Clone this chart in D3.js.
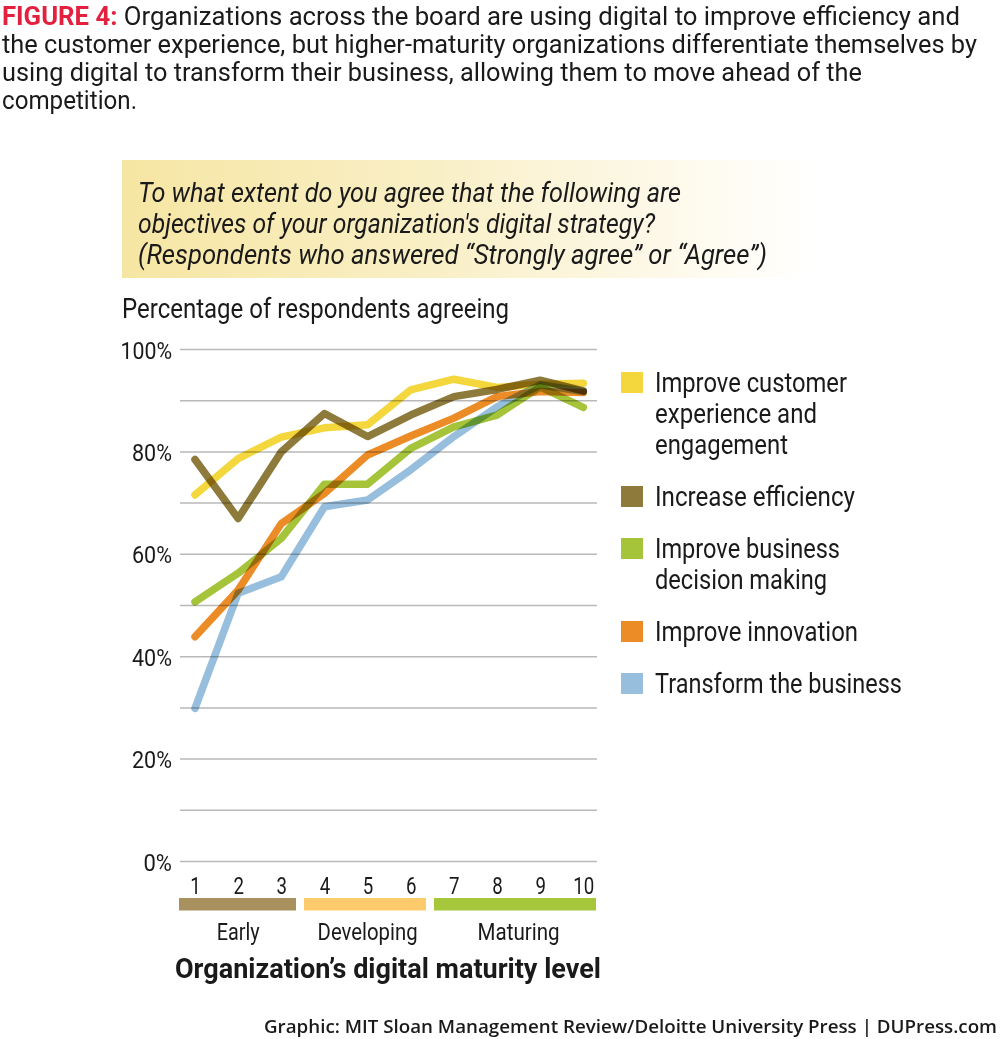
<!DOCTYPE html>
<html>
<head>
<meta charset="utf-8">
<script src="https://cdn.jsdelivr.net/npm/d3@7"></script>
<style>
  html, body { margin: 0; padding: 0; background: #fff; }
  svg { display: block; }
  text { font-family: Roboto, "Liberation Sans", sans-serif; fill: #1a1a1a; }
</style>
</head>
<body>
<svg id="chart" width="1000" height="1039"></svg>
<script>
// ---------- data ----------
const levels = [1, 2, 3, 4, 5, 6, 7, 8, 9, 10];
const seriesNames = [
  "Improve customer experience and engagement",
  "Increase efficiency",
  "Improve business decision making",
  "Improve innovation",
  "Transform the business"
];
const customerExperience = [71.6, 78.7, 82.9, 84.7, 85.3, 92.1, 94.2, 92.6, 93.2, 93.4];
const efficiency         = [78.5, 67.0, 80.0, 87.5, 83.0, 87.2, 90.8, 92.2, 94.0, 91.9];
const decisionMaking     = [50.7, 56.3, 63.1, 73.7, 73.7, 80.7, 84.9, 87.2, 92.7, 88.7];
const innovation         = [43.9, 53.0, 66.0, 71.9, 79.4, 83.1, 86.6, 90.8, 91.8, 91.6];
const transform          = [29.9, 52.4, 55.6, 69.3, 70.6, 76.5, 83.0, 88.8, 93.1, 91.8];
const yTicks = [0, 20, 40, 60, 80, 100];
const yGrid = [0, 10, 20, 30, 40, 50, 60, 70, 80, 90, 100];
const stages = ["Early", "Developing", "Maturing"];
const stageLevels = [[1, 3], [4, 6], [7, 10]];

const legendLines = [
  ["Improve customer", "experience and", "engagement"],
  ["Increase efficiency"],
  ["Improve business", "decision making"],
  ["Improve innovation"],
  ["Transform the business"]
];

// ---------- styles ----------
const colors = ["#f3d73c", "#8e7a3b", "#a5c43a", "#ec8c27", "#97bfdd"];
const stageColors = ["#a8915e", "#fdcb6b", "#a6c63b"];
const values = [customerExperience, efficiency, decisionMaking, innovation, transform];

const svg = d3.select("#chart");

// helper: text with forced width
function txt(g, x, y, s, opts = {}) {
  const t = g.append("text").attr("x", x).attr("y", y).text(s);
  if (opts.size) t.attr("font-size", opts.size);
  if (opts.weight) t.attr("font-weight", opts.weight);
  if (opts.style) t.attr("font-style", opts.style);
  if (opts.fill) t.style("fill", opts.fill);
  if (opts.anchor) t.attr("text-anchor", opts.anchor);
  if (opts.family) t.style("font-family", opts.family);
  if (opts.width) t.attr("textLength", opts.width).attr("lengthAdjust", "spacingAndGlyphs");
  return t;
}

// ---------- title ----------
const title = svg.append("g");
const t1 = title.append("text").attr("x", 2).attr("y", 25).attr("font-size", 25)
  .attr("textLength", 958).attr("lengthAdjust", "spacingAndGlyphs");
t1.append("tspan").attr("font-weight", "bold").style("fill", "#e2213f").text("FIGURE 4:");
t1.append("tspan").text(" Organizations across the board are using digital to improve efficiency and");
txt(title, 2, 53, "the customer experience, but higher-maturity organizations differentiate themselves by", {size: 25, width: 975});
txt(title, 2, 81, "using digital to transform their business, allowing them to move ahead of the", {size: 25, width: 860});
txt(title, 2, 109, "competition.", {size: 25, width: 135});

// ---------- question box ----------
const defs = svg.append("defs");
const grad = defs.append("linearGradient").attr("id", "boxGrad").attr("x1", "0%").attr("x2", "100%");
grad.append("stop").attr("offset", "0%").attr("stop-color", "#f6e6a3");
grad.append("stop").attr("offset", "45%").attr("stop-color", "#f9efc6");
grad.append("stop").attr("offset", "85%").attr("stop-color", "#fefbf0");
grad.append("stop").attr("offset", "100%").attr("stop-color", "#ffffff");
svg.append("rect").attr("x", 122).attr("y", 160).attr("width", 690).attr("height", 118).attr("fill", "url(#boxGrad)");
const qb = svg.append("g");
txt(qb, 138, 202, "To what extent do you agree that the following are", {size: 27, style: "italic", width: 543});
txt(qb, 138, 233, "objectives of your organization's digital strategy?", {size: 27, style: "italic", width: 517});
txt(qb, 138, 264, "(Respondents who answered \u201CStrongly agree\u201D or \u201CAgree\u201D)", {size: 27, style: "italic", width: 629});

txt(svg, 122, 318, "Percentage of respondents agreeing", {size: 27, width: 387});

// ---------- scales ----------
const x = d3.scaleLinear().domain([1, 10]).range([195, 583.3]);
const y = d3.scaleLinear().domain([0, 100]).range([861.5, 349.5]);

// gridlines
svg.append("g").selectAll("line").data(yGrid).join("line")
  .attr("x1", 180).attr("x2", 597)
  .attr("y1", d => y(d)).attr("y2", d => y(d))
  .attr("stroke", "#b9b9b9").attr("stroke-width", 1.5);

// y axis labels
const yAxis = d3.axisLeft(y).tickValues(yTicks).tickFormat(d => d + "%").tickSize(0).tickPadding(0);
const yg = svg.append("g").attr("transform", "translate(172,0)").call(yAxis);
yg.select(".domain").remove();
yg.selectAll(".tick text")
  .attr("font-size", 24).attr("x", 0).attr("dy", "0.36em")
  .style("font-family", "Roboto, sans-serif").style("fill", "#1a1a1a")
  .attr("textLength", d => String(d).length * 11.5 + 17).attr("lengthAdjust", "spacingAndGlyphs");

// lines
const line = d3.line().x((d, i) => x(levels[i])).y(d => y(d));
const drawOrder = [4, 3, 2, 0, 1];
svg.append("g").selectAll("path").data(drawOrder).join("path")
  .attr("d", k => line(values[k]))
  .attr("fill", "none")
  .attr("stroke", k => colors[k])
  .attr("stroke-width", 7.5)
  .attr("stroke-linecap", "round")
  .attr("stroke-linejoin", "round")
  .style("mix-blend-mode", "multiply");

// x axis labels
const xAxis = d3.axisBottom(x).tickValues(levels).tickFormat(d => d).tickSize(0).tickPadding(0);
const xg = svg.append("g").attr("transform", "translate(0,894)").call(xAxis);
xg.select(".domain").remove();
xg.selectAll(".tick text").attr("font-size", 24).attr("dy", 0)
  .style("font-family", "Roboto, sans-serif").style("fill", "#1a1a1a")
  .attr("textLength", d => String(d).length * 10.5).attr("lengthAdjust", "spacingAndGlyphs");

// stage bands
const bandX = [[179, 296], [304, 426], [434, 596]];
svg.append("g").selectAll("rect").data(stages).join("rect")
  .attr("x", (d, i) => bandX[i][0]).attr("width", (d, i) => bandX[i][1] - bandX[i][0])
  .attr("y", 898).attr("height", 12.5)
  .attr("fill", (d, i) => stageColors[i]);
const stageW = [43, 100, 82];
const sl = svg.append("g");
stages.forEach((s, i) => {
  const cx = (x(stageLevels[i][0]) + x(stageLevels[i][1])) / 2;
  txt(sl, cx, 940, s, {size: 24, anchor: "middle", width: stageW[i]});
});
txt(svg, 388, 978, "Organization\u2019s digital maturity level", {size: 28, weight: "bold", anchor: "middle", width: 426});

// legend
const lg = svg.append("g");
const legW = [[192, 162, 133], [200], [185, 172], [203], [247]];
let ly = 392;
legendLines.forEach((lines, i) => {
  lg.append("rect").attr("x", 621).attr("y", ly - 20).attr("width", 22).attr("height", 21).attr("fill", colors[i]);
  lines.forEach((s, j) => {
    txt(lg, 655, ly + j * 31, s, {size: 27, width: legW[i][j]});
  });
  ly += lines.length * 31 + 21;
});

// footer
txt(svg, 997, 1033, "Graphic: MIT Sloan Management Review/Deloitte University Press  |  DUPress.com",
  {size: 18, weight: 600, anchor: "end", width: 733, family: "'Open Sans', sans-serif"});
</script>
</body>
</html>
